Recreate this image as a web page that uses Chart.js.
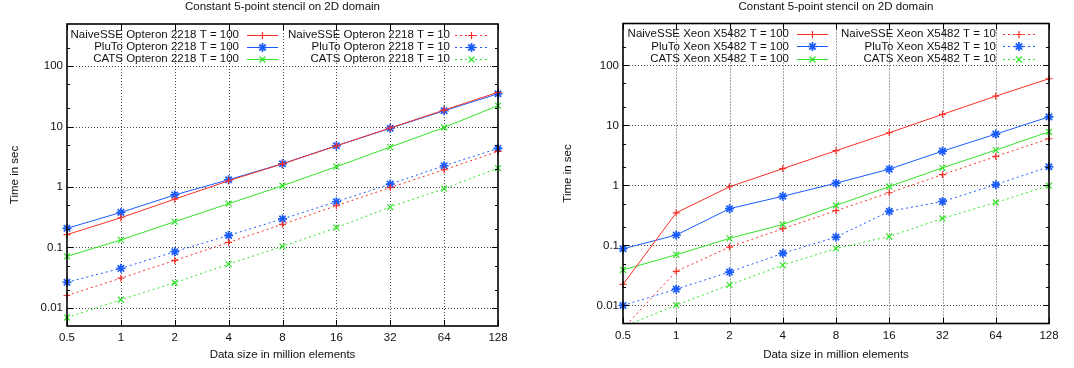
<!DOCTYPE html>
<html>
<head>
<meta charset="utf-8">
<script src="https://cdn.jsdelivr.net/npm/chart.js@4.4.1/dist/chart.umd.min.js"></script>
<style>
  html, body { margin: 0; padding: 0; background: #fff; }
  #wrap { position: relative; width: 1074px; height: 368px; overflow: hidden; }
  .pane { position: absolute; top: 0; width: 537px; height: 368px; }
</style>
</head>
<body>
<div id="wrap">
  <div class="pane" style="left:0"><canvas id="opteron" width="537" height="368"></canvas></div>
  <div class="pane" style="left:537px"><canvas id="xeon" width="537" height="368"></canvas></div>
</div>
<script>
// Problem sizes (million elements) and axis labels
const sizes = [0.5, 1, 2, 4, 8, 16, 32, 64, 128];
const sizeLabels = ['0.5', '1', '2', '4', '8', '16', '32', '64', '128'];
const timeTicks = [0.01, 0.1, 1, 10, 100];
const timeTickLabels = ['0.01', '0.1', '1', '10', '100'];

const chartTitle = 'Constant 5-point stencil on 2D domain';
const xTitle = 'Data size in million elements';
const yTitle = 'Time in sec';

// Opteron 2218 timings (seconds)
const opteronNaive100 = [0.163, 0.31, 0.63, 1.27, 2.42, 4.8, 9.5, 18.8, 37];
const opteronPluto100 = [0.207, 0.38, 0.74, 1.32, 2.43, 4.82, 9.4, 18.3, 35];
const opteronCats100  = [0.071, 0.133, 0.267, 0.53, 1.05, 2.17, 4.58, 9.67, 22.3];
const opteronNaive10  = [0.016, 0.031, 0.061, 0.121, 0.241, 0.49, 0.98, 1.93, 3.88];
const opteronPluto10  = [0.0265, 0.045, 0.085, 0.158, 0.296, 0.57, 1.12, 2.25, 4.35];
const opteronCats10   = [0.0069, 0.0136, 0.026, 0.053, 0.104, 0.212, 0.466, 0.94, 2.06];

// Xeon X5482 timings (seconds)
const xeonNaive100 = [0.0224, 0.35, 0.95, 1.9, 3.79, 7.55, 15.3, 30.8, 60];
const xeonPluto100 = [0.088, 0.149, 0.41, 0.66, 1.09, 1.87, 3.73, 7.17, 13.9];
const xeonCats100  = [0.039, 0.07, 0.131, 0.224, 0.464, 0.96, 1.97, 3.88, 7.84];
const xeonNaive10  = [0.0041, 0.037, 0.094, 0.19, 0.38, 0.755, 1.51, 3.05, 6.0];
const xeonPluto10  = [0.01, 0.0187, 0.036, 0.074, 0.138, 0.37, 0.54, 1.03, 2.05];
const xeonCats10   = [0.0044, 0.0101, 0.022, 0.047, 0.089, 0.141, 0.282, 0.52, 0.99];

const FONT = "'Liberation Sans', Arial, Helvetica, sans-serif";
const FONT_SIZE = 11.5;
const RED = 'rgb(246,48,38)';
const BLUE = 'rgb(26,92,250)';
const GREEN = 'rgb(50,228,40)';
const DOTS = [2, 3];

function drawMarker(ctx, style, x, y, r) {
  ctx.beginPath();
  if (style === 'cross' || style === 'star') {
    ctx.moveTo(x - r, y); ctx.lineTo(x + r, y);
    ctx.moveTo(x, y - r); ctx.lineTo(x, y + r);
  }
  if (style === 'crossRot' || style === 'star') {
    const d = r * Math.SQRT1_2;
    ctx.moveTo(x - d, y - d); ctx.lineTo(x + d, y + d);
    ctx.moveTo(x - d, y + d); ctx.lineTo(x + d, y - d);
  }
  ctx.stroke();
}

function series(label, values, color, dotted, style, radius, width) {
  return {
    label,
    data: values.map((v, i) => ({ x: sizes[i], y: v })),
    borderColor: color,
    backgroundColor: color,
    borderWidth: 1,
    borderDash: dotted ? DOTS : [],
    pointStyle: style,
    pointRadius: radius,
    pointHoverRadius: radius,
    pointBorderWidth: width,
    pointBorderColor: color,
    tension: 0,
    clip: { left: 8, right: 8, top: 8, bottom: 0 }
  };
}

// Frame, inward ticks, dotted grid, titles and in-plot key
const gnuFrame = {
  id: 'gnuFrame',
  beforeDatasetsDraw(chart) {
    const { ctx, chartArea: a, scales: { x, y } } = chart;
    ctx.save();
    ctx.strokeStyle = 'rgba(40,40,40,0.85)';
    ctx.lineWidth = 1;
    ctx.setLineDash([1, 2]);
    ctx.beginPath();
    sizes.slice(1, -1).forEach(v => {
      const px = Math.round(x.getPixelForValue(v)) + 0.5;
      ctx.moveTo(px, a.top); ctx.lineTo(px, a.bottom);
    });
    timeTicks.forEach(v => {
      const py = Math.round(y.getPixelForValue(v)) + 0.5;
      ctx.moveTo(a.left, py); ctx.lineTo(a.right, py);
    });
    ctx.stroke();
    ctx.restore();
  },
  afterDraw(chart, args, opts) {
    const { ctx, chartArea: a, scales: { x, y } } = chart;
    ctx.save();
    // ticks
    ctx.strokeStyle = '#000';
    ctx.lineWidth = 1;
    ctx.setLineDash([]);
    ctx.beginPath();
    sizes.forEach(v => {
      const px = Math.round(x.getPixelForValue(v)) + 0.5;
      ctx.moveTo(px, a.bottom); ctx.lineTo(px, a.bottom - 6);
      ctx.moveTo(px, a.top); ctx.lineTo(px, a.top + 6);
    });
    timeTicks.forEach(v => {
      const py = Math.round(y.getPixelForValue(v)) + 0.5;
      ctx.moveTo(a.left, py); ctx.lineTo(a.left + 6, py);
      ctx.moveTo(a.right, py); ctx.lineTo(a.right - 6, py);
    });
    [0.002, 0.02, 0.2, 2, 20, 200, 0.05, 0.5, 5, 50].forEach(v => {
      const py = Math.round(y.getPixelForValue(v)) + 0.5;
      if (py < a.top || py > a.bottom) return;
      ctx.moveTo(a.left, py); ctx.lineTo(a.left + 3, py);
      ctx.moveTo(a.right, py); ctx.lineTo(a.right - 3, py);
    });
    ctx.stroke();
    // border
    ctx.lineWidth = 1.6;
    ctx.strokeRect(a.left, a.top, a.right - a.left, a.bottom - a.top);

    // titles
    ctx.fillStyle = '#111';
    ctx.font = FONT_SIZE + 'px ' + FONT;
    ctx.textAlign = 'center';
    ctx.textBaseline = 'middle';
    const cx = (a.left + a.right) / 2;
    ctx.fillText(chartTitle, cx, 7);
    ctx.fillText(xTitle, cx, opts.xTitleY);
    ctx.save();
    ctx.translate(opts.yTitleX, (a.top + a.bottom) / 2);
    ctx.rotate(-Math.PI / 2);
    ctx.fillText(yTitle, 0, 0);
    ctx.restore();

    // key
    ctx.textAlign = 'right';
    chart.data.datasets.forEach((ds, i) => {
      const col = i < 3 ? 0 : 1;
      const row = i % 3;
      const k = opts.key[col];
      const ry = a.top + 10.5 + row * 12.4;
      ctx.fillStyle = '#111';
      ctx.fillText(ds.label, k.textRight, ry);
      ctx.strokeStyle = ds.borderColor;
      ctx.lineWidth = 1;
      ctx.setLineDash(ds.borderDash);
      ctx.beginPath();
      ctx.moveTo(k.s0, Math.round(ry) + 0.5);
      ctx.lineTo(k.s1, Math.round(ry) + 0.5);
      ctx.stroke();
      ctx.setLineDash([]);
      ctx.lineWidth = ds.pointBorderWidth;
      drawMarker(ctx, ds.pointStyle, (k.s0 + k.s1) / 2, Math.round(ry) + 0.5, ds.pointRadius);
    });
    ctx.restore();
  }
};

function makeChart(id, datasets, frame) {
  const tickFont = { family: FONT, size: FONT_SIZE };
  return new Chart(document.getElementById(id), {
    type: 'line',
    data: { datasets },
    plugins: [gnuFrame],
    options: {
      responsive: false,
      animation: false,
      devicePixelRatio: 1,
      layout: { padding: { left: 0, top: frame.top, right: frame.right, bottom: 0 } },
      plugins: {
        legend: { display: false },
        title: { display: false },
        tooltip: { enabled: false },
        gnuFrame: frame
      },
      scales: {
        x: {
          type: 'logarithmic',
          min: 0.5,
          max: 128,
          afterBuildTicks: s => { s.ticks = sizes.map(v => ({ value: v })); },
          afterFit: s => { s.height = frame.xAxisHeight; },
          ticks: {
            callback: (v, i) => sizeLabels[i],
            font: tickFont, color: '#111', padding: 5,
            maxRotation: 0, autoSkip: false
          },
          grid: { display: false, drawTicks: false },
          border: { display: false }
        },
        y: {
          type: 'logarithmic',
          min: 0.005,
          max: 500,
          afterBuildTicks: s => { s.ticks = timeTicks.map(v => ({ value: v })); },
          afterFit: s => { s.width = frame.yAxisWidth; },
          ticks: {
            callback: (v, i) => timeTickLabels[i],
            font: tickFont, color: '#111', padding: 4, autoSkip: false
          },
          grid: { display: false, drawTicks: false },
          border: { display: false }
        }
      }
    }
  });
}

makeChart('opteron', [
  series('NaiveSSE Opteron 2218 T = 100', opteronNaive100, RED, false, 'cross', 3.5, 1.2),
  series('PluTo Opteron 2218 T = 100', opteronPluto100, BLUE, false, 'star', 4.5, 1.7),
  series('CATS Opteron 2218 T = 100', opteronCats100, GREEN, false, 'crossRot', 4.2, 1.2),
  series('NaiveSSE Opteron 2218 T = 10', opteronNaive10, RED, true, 'cross', 3.5, 1.2),
  series('PluTo Opteron 2218 T = 10', opteronPluto10, BLUE, true, 'star', 4.5, 1.7),
  series('CATS Opteron 2218 T = 10', opteronCats10, GREEN, true, 'crossRot', 4.2, 1.2)
], {
  top: 24, right: 39, xAxisHeight: 42, yAxisWidth: 67,
  xTitleY: 355, yTitleX: 15,
  key: [{ textRight: 239, s0: 247, s1: 278 }, { textRight: 450, s0: 455, s1: 488 }]
});

makeChart('xeon', [
  series('NaiveSSE Xeon X5482 T = 100', xeonNaive100, RED, false, 'cross', 3.5, 1.2),
  series('PluTo Xeon X5482 T = 100', xeonPluto100, BLUE, false, 'star', 4.5, 1.7),
  series('CATS Xeon X5482 T = 100', xeonCats100, GREEN, false, 'crossRot', 4.2, 1.2),
  series('NaiveSSE Xeon X5482 T = 10', xeonNaive10, RED, true, 'cross', 3.5, 1.2),
  series('PluTo Xeon X5482 T = 10', xeonPluto10, BLUE, true, 'star', 4.5, 1.7),
  series('CATS Xeon X5482 T = 10', xeonCats10, GREEN, true, 'crossRot', 4.2, 1.2)
], {
  top: 23.5, right: 25, xAxisHeight: 44.5, yAxisWidth: 86,
  xTitleY: 355, yTitleX: 31,
  key: [{ textRight: 252, s0: 260, s1: 291 }, { textRight: 459, s0: 466, s1: 498 }]
});
</script>
</body>
</html>
